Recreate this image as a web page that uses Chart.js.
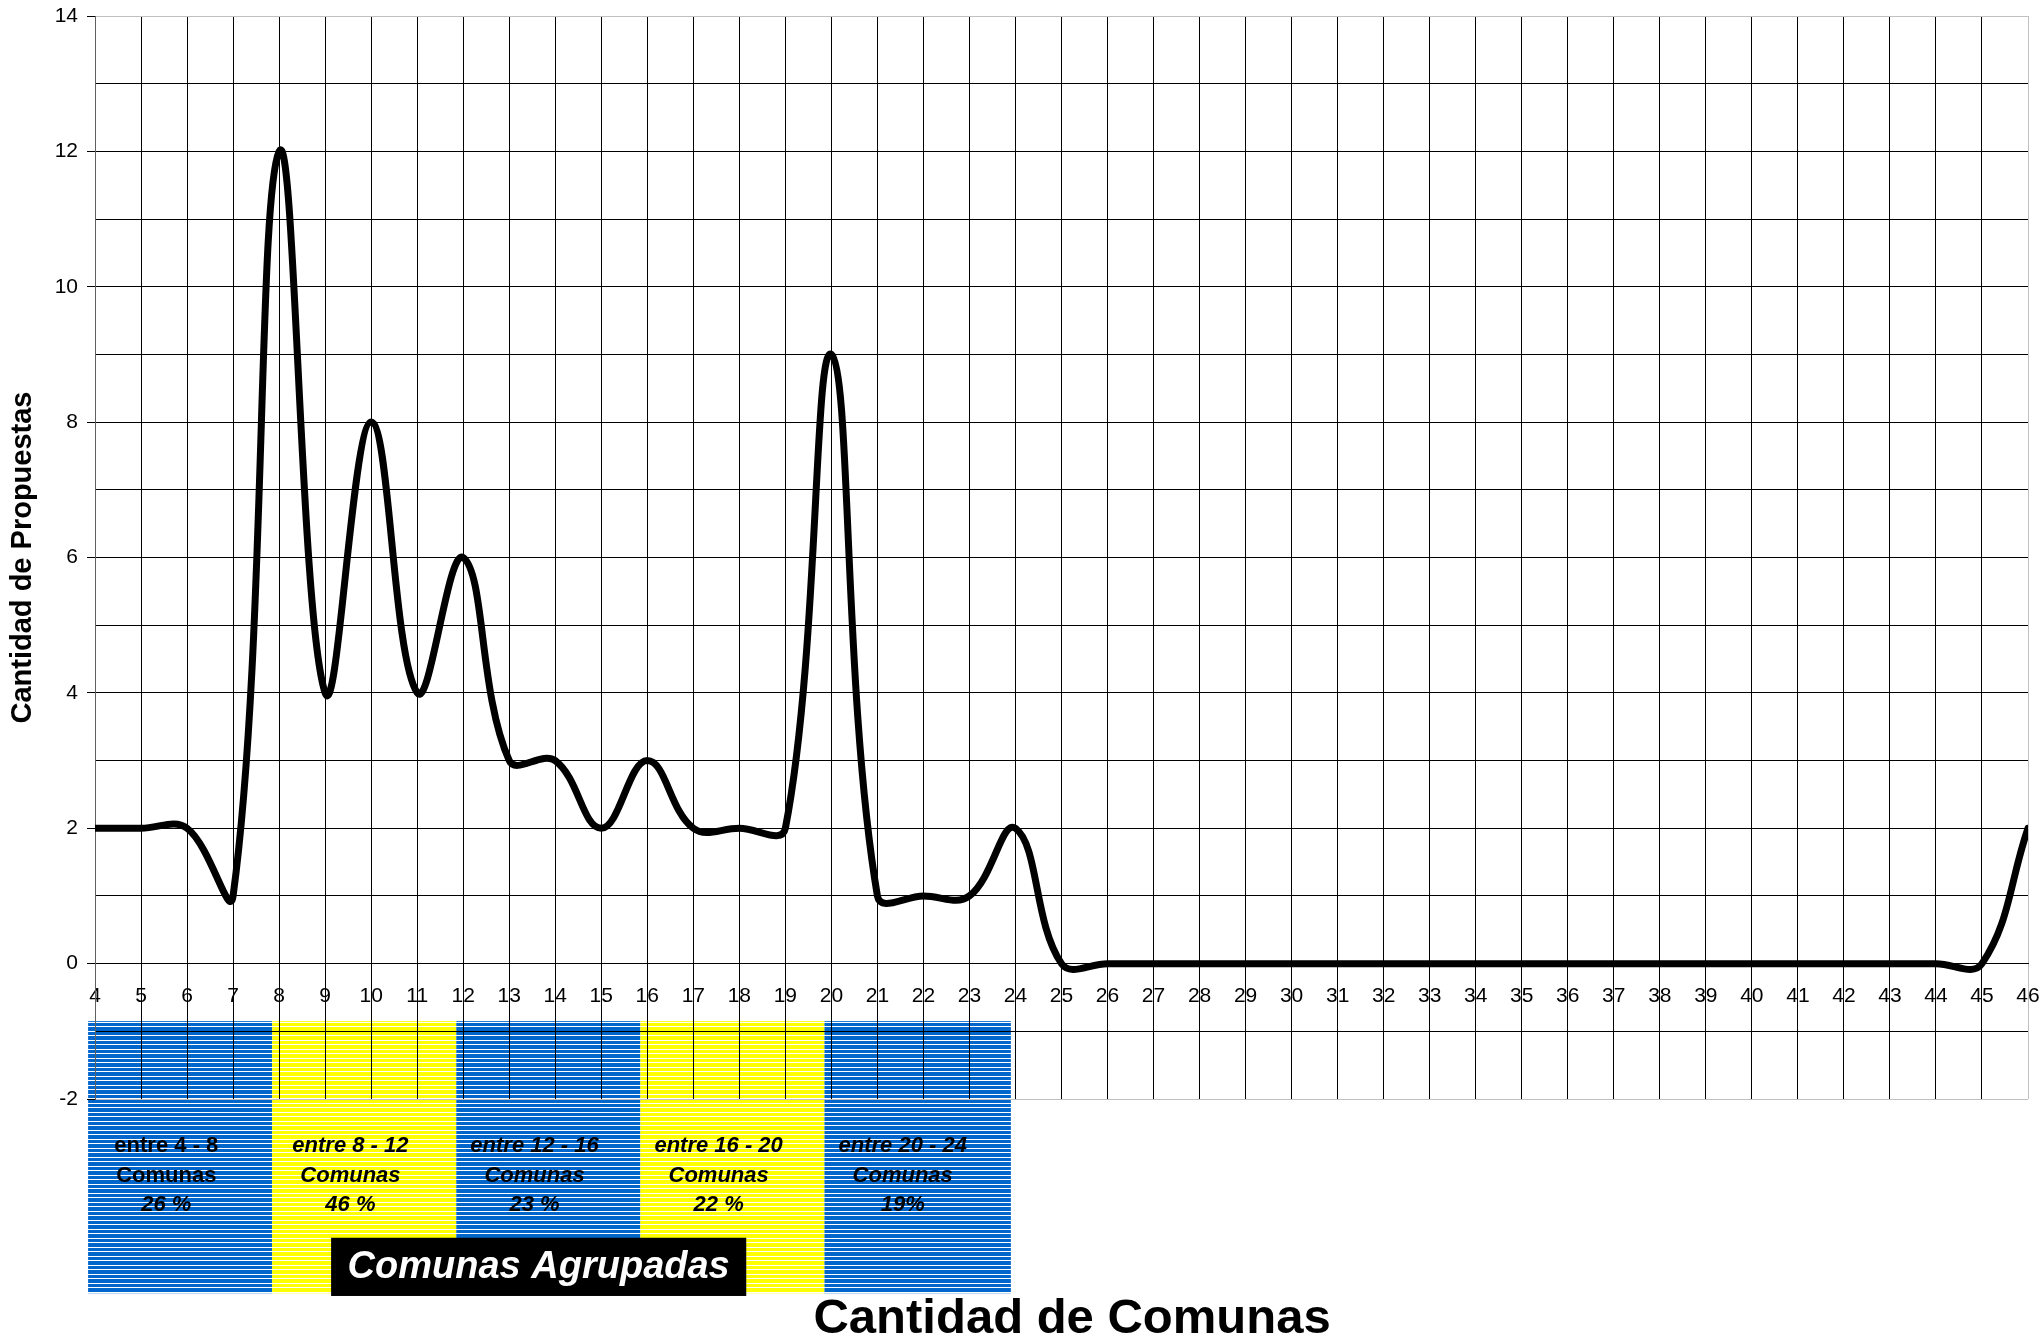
<!DOCTYPE html>
<html>
<head>
<meta charset="utf-8">
<script src="https://cdn.jsdelivr.net/npm/chart.js@4.4.0/dist/chart.umd.min.js"></script>
<style>
  html, body { margin: 0; padding: 0; background: #fff; }
</style>
</head>
<body>
<canvas id="grafica" width="2042" height="1337"></canvas>
<script>
// Datos
const comunas = [4, 5, 6, 7, 8, 9, 10, 11, 12, 13, 14, 15, 16, 17, 18, 19, 20, 21, 22, 23, 24, 25,
  26, 27, 28, 29, 30, 31, 32, 33, 34, 35, 36, 37, 38, 39, 40, 41, 42, 43, 44, 45, 46];
const propuestas = [2, 2, 2, 1, 12, 4, 8, 4, 6, 3, 3, 2, 3, 2, 2, 2, 9, 1, 1, 1, 2, 0,
  0, 0, 0, 0, 0, 0, 0, 0, 0, 0, 0, 0, 0, 0, 0, 0, 0, 0, 0, 0, 2];

// Comunas agrupadas
const grupos = [[4, 8], [8, 12], [12, 16], [16, 20], [20, 24]];
const porcentajes = ['26 %', '46 %', '23 %', '22 %', '19%'];

const coloresGrupo = ['#0066cc', '#ffff00', '#0066cc', '#ffff00', '#0066cc'];
const FUENTE = '"Liberation Sans", Arial, sans-serif';

function rayado(color) {
  const c = document.createElement('canvas');
  c.width = 4; c.height = 9;
  const g = c.getContext('2d');
  g.fillStyle = color;
  g.fillRect(0, 0, 4, 9);
  g.fillStyle = '#fff';
  g.fillRect(0, 0, 4, 1);
  g.fillRect(0, 5, 4, 1);
  return g.createPattern(c, 'repeat');
}

const bandas = {
  id: 'bandas',
  beforeDraw(chart) {
    const { ctx, scales: { x, y } } = chart;
    const top = y.getPixelForValue(-0.85);
    const bottom = y.getPixelForValue(-4.87);
    ctx.save();
    grupos.forEach((g, i) => {
      const x0 = x.getPixelForValue(g[0] - 0.15);
      const x1 = x.getPixelForValue(g[1] - (i === grupos.length - 1 ? 0.1 : 0.15));
      ctx.fillStyle = rayado(coloresGrupo[i]);
      ctx.fillRect(x0, top, x1 - x0, bottom - top);
    });
    ctx.restore();
  },
  afterDraw(chart) {
    const { ctx, scales: { x, y } } = chart;
    ctx.save();
    ctx.textAlign = 'center';
    ctx.textBaseline = 'middle';
    ctx.fillStyle = '#000';
    grupos.forEach((g, i) => {
      const cx = x.getPixelForValue(g[0] + 1.55);
      const lineas = ['entre ' + g[0] + ' - ' + g[1], 'Comunas', porcentajes[i]];
      lineas.forEach((t, j) => {
        const italica = !(i === 0 && j < 2);
        ctx.font = (italica ? 'italic ' : '') + 'bold 22px ' + FUENTE;
        ctx.fillText(t, cx, y.getPixelForValue(-2.7 - j * 0.43));
      });
    });

    // recuadro "Comunas Agrupadas"
    const bx0 = x.getPixelForValue(9.13), bx1 = x.getPixelForValue(18.15);
    const by0 = y.getPixelForValue(-4.05), by1 = y.getPixelForValue(-4.91);
    ctx.fillStyle = '#000';
    ctx.fillRect(bx0, by0, bx1 - bx0, by1 - by0);
    ctx.fillStyle = '#fff';
    ctx.font = 'italic bold 38px ' + FUENTE;
    ctx.fillText('Comunas Agrupadas', (bx0 + bx1) / 2, (by0 + by1) / 2 + 1);

    // título eje x
    ctx.fillStyle = '#000';
    ctx.font = 'bold 49px ' + FUENTE;
    ctx.textBaseline = 'alphabetic';
    ctx.fillText('Cantidad de Comunas', x.getPixelForValue(25.23), y.getPixelForValue(-5.45));
    ctx.restore();
  }
};

const bordeGris = '#c0c0c0';

new Chart(document.querySelector('#grafica'), {
  type: 'line',
  data: {
    datasets: [{
      data: comunas.map((c, i) => ({ x: c, y: propuestas[i] })),
      borderColor: '#000',
      borderWidth: 7,
      pointRadius: 0,
      tension: 0.4,
      fill: false,
      borderCapStyle: 'round',
      borderJoinStyle: 'round'
    }]
  },
  options: {
    responsive: false,
    animation: false,
    events: [],
    layout: { padding: { top: 16, right: 14, bottom: 238, left: 0 } },
    plugins: { legend: { display: false }, tooltip: { enabled: false } },
    scales: {
      x: {
        type: 'linear',
        position: { y: 0 },
        min: 4,
        max: 46,
        afterFit(scale) { scale.paddingLeft = 0; scale.paddingRight = 0; },
        ticks: {
          stepSize: 1,
          color: '#000',
          padding: 12,
          maxRotation: 0,
          autoSkip: false,
          font: { family: FUENTE, size: 21 }
        },
        grid: {
          color: ctx => ctx.tick && ctx.tick.value === 46 ? bordeGris : '#000',
          lineWidth: 1,
          tickLength: 8
        },
        border: { color: '#000', width: 1 }
      },
      y: {
        min: -2,
        max: 14,
        afterFit(scale) { scale.width = 95; scale.paddingTop = 0; scale.paddingBottom = 0; },
        ticks: {
          stepSize: 1,
          color: '#000',
          padding: 9,
          font: { family: FUENTE, size: 21 },
          callback: v => (v % 2 === 0 ? v : '')
        },
        grid: {
          color: ctx => ctx.tick && (ctx.tick.value === 14 || ctx.tick.value === -2) ? bordeGris : '#000',
          tickColor: ctx => ctx.tick && ctx.tick.value % 2 === 0 ? '#000' : 'rgba(0,0,0,0)',
          lineWidth: 1,
          tickLength: 8
        },
        border: { color: '#606060', width: 1 },
        title: {
          display: true,
          text: 'Cantidad de Propuestas',
          color: '#000',
          padding: { top: 6, bottom: 0 },
          font: { family: FUENTE, size: 29, weight: 'bold' }
        }
      }
    }
  },
  plugins: [bandas]
});
</script>
</body>
</html>
